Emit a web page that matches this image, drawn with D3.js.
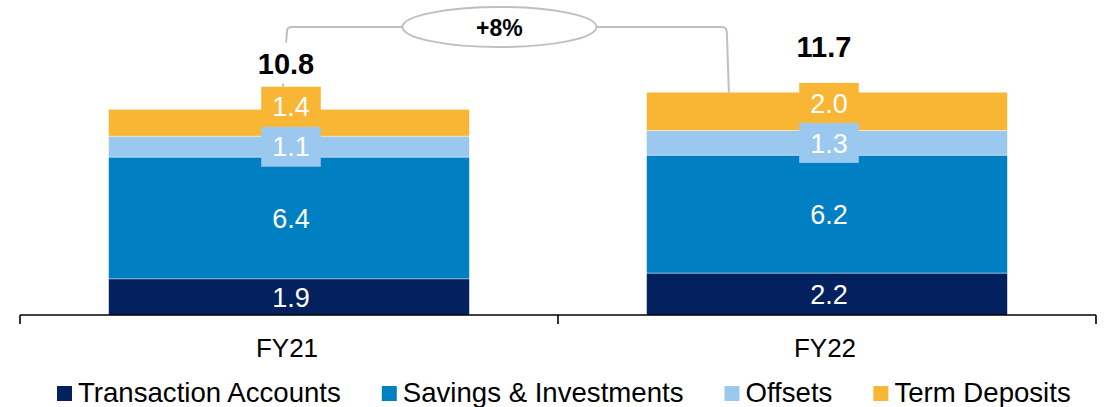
<!DOCTYPE html>
<html>
<head>
<meta charset="utf-8">
<script src="https://cdn.jsdelivr.net/npm/d3@7"></script>
<style>
  html, body { margin: 0; padding: 0; background: #fff; }
  svg { display: block; font-family: "Liberation Sans", Arial, sans-serif; }
</style>
</head>
<body>
<svg id="chart" width="1107" height="407"></svg>
<script>
// ---- data ----
const categories = ["FY21", "FY22"];
const seriesNames = ["Transaction Accounts", "Savings & Investments", "Offsets", "Term Deposits"];
const transactionAccounts = [1.9, 2.2];
const savingsInvestments = [6.4, 6.2];
const offsets = [1.1, 1.3];
const termDeposits = [1.4, 2.0];
const totals = [10.8, 11.7];
const growthLabel = "+8%";
const seriesColors = ["#03215f", "#0080c3", "#9bc8ee", "#f9b634"];

// ---- setup ----
const svg = d3.select("#chart");
const baseY = 315;

const x = d3.scaleBand().domain(categories).range([20, 1096]).paddingInner(0.33).paddingOuter(0.165);
const xAxisBand = d3.scaleBand().domain(categories).range([20, 1096]);
const y = d3.scaleLinear().domain([0, 11.7]).range([baseY, 92.5]);

const rows = categories.map((c, i) => ({
  cat: c,
  "Transaction Accounts": transactionAccounts[i],
  "Savings & Investments": savingsInvestments[i],
  "Offsets": offsets[i],
  "Term Deposits": termDeposits[i]
}));
const stack = d3.stack().keys(seriesNames)(rows);
const color = d3.scaleOrdinal().domain(seriesNames).range(seriesColors);

// ---- bars ----
const gBars = svg.append("g");
stack.forEach(layer => {
  gBars.selectAll(null).data(layer).join("rect")
    .attr("x", d => x(d.data.cat))
    .attr("width", x.bandwidth())
    .attr("y", d => y(d[1]))
    .attr("height", d => y(d[0]) - y(d[1]))
    .attr("fill", color(layer.key));
  gBars.selectAll(null).data(layer.filter(() => layer.index > 0)).join("line")
    .attr("x1", d => x(d.data.cat)).attr("x2", d => x(d.data.cat) + x.bandwidth())
    .attr("y1", d => y(d[0])).attr("y2", d => y(d[0]))
    .attr("stroke", "#ffffff").attr("stroke-opacity", 0.5).attr("stroke-width", 1);
});

// ---- segment labels with collision avoidance ----
const boxH = 40;
const labelFont = 27;
const gLabels = svg.append("g");
const boxTops = {};
categories.forEach((cat, ci) => {
  let prevTop = Infinity;
  stack.forEach(layer => {
    const d = layer[ci];
    const segTop = y(d[1]), segBot = y(d[0]);
    const segCenter = (segTop + segBot) / 2;
    const cy = Math.min(segCenter, prevTop - boxH / 2);
    const shifted = cy < segCenter - 0.5;
    prevTop = cy - boxH / 2;
    const cx = x(cat) + x.bandwidth() / 2 + 2;
    const g = gLabels.append("g");
    const needBox = shifted || (segBot - segTop) < boxH - 4;
    const rect = g.append("rect").attr("fill", color(layer.key));
    const t = g.append("text")
      .attr("x", cx).attr("y", cy + labelFont * 0.358)
      .attr("text-anchor", "middle")
      .attr("font-size", labelFont)
      .attr("fill", "#ffffff")
      .text(d3.format(".1f")(d[1] - d[0]));
    const tw = t.node().getComputedTextLength();
    if (needBox) {
      rect.attr("x", cx - tw / 2 - 11).attr("width", tw + 22)
        .attr("y", cy - boxH / 2).attr("height", boxH);
    } else {
      rect.remove();
    }
    boxTops[cat] = needBox ? cy - boxH / 2 : segTop;
  });
});

// ---- connector line and growth ellipse ----
const topY = 27;
const xL = x(categories[0]) + x.bandwidth() / 2 - 6;
const xR = x(categories[1]) + x.bandwidth() * 0.225;
const ecx = (xL + xR) / 2 - 6;
const erx = 97, ery = 20;
const conn = svg.append("g").attr("fill", "none").attr("stroke", "#bfbfbf").attr("stroke-width", 2);
conn.append("path").attr("d",
  `M${xL},${boxTops[categories[0]]} L${xL + 4},${topY + 4} Q${xL + 4},${topY} ${xL + 9},${topY} L${ecx - erx},${topY}`);
conn.append("path").attr("d",
  `M${ecx + erx},${topY} L${xR - 6},${topY} Q${xR - 1},${topY} ${xR - 1},${topY + 6} L${xR + 1},${y(totals[1])}`);
conn.append("ellipse").attr("cx", ecx).attr("cy", topY).attr("rx", erx).attr("ry", ery).attr("fill", "#fff");
svg.append("text")
  .attr("x", ecx).attr("y", topY + 8.5)
  .attr("text-anchor", "middle")
  .attr("font-size", 23).attr("font-weight", "bold")
  .attr("fill", "#000")
  .text(growthLabel);

// ---- totals ----
const gTot = svg.append("g");
categories.forEach((cat, i) => {
  const cx = x(cat) + x.bandwidth() / 2 - 3;
  const by = y(totals[i]) - 36;
  gTot.append("rect").attr("x", cx - 40).attr("y", by - 31).attr("width", 80).attr("height", 41).attr("fill", "#fff");
  gTot.append("text")
    .attr("x", cx).attr("y", by)
    .attr("text-anchor", "middle")
    .attr("font-size", 29).attr("font-weight", "bold")
    .attr("fill", "#000")
    .text(d3.format(".1f")(totals[i]));
});

// ---- axis ----
const gAxis = svg.append("g").attr("stroke", "#000").attr("stroke-width", 1.6);
const [ax0, ax1] = xAxisBand.range();
gAxis.append("line").attr("x1", ax0).attr("x2", ax1).attr("y1", baseY).attr("y2", baseY);
const tickXs = categories.map(c => xAxisBand(c)).concat([ax1]);
gAxis.selectAll(null).data(tickXs).join("line")
  .attr("x1", d => d).attr("x2", d => d)
  .attr("y1", baseY).attr("y2", baseY + 9);
svg.append("g").selectAll("text").data(categories).join("text")
  .attr("x", d => xAxisBand(d) + xAxisBand.bandwidth() / 2 - 2)
  .attr("y", 356.5)
  .attr("text-anchor", "middle")
  .attr("font-size", 26)
  .attr("fill", "#000")
  .text(d => d);

// ---- legend ----
const gLeg = svg.append("g");
let lx = 57;
seriesNames.forEach(name => {
  gLeg.append("rect").attr("x", lx).attr("y", 386).attr("width", 15).attr("height", 15).attr("fill", color(name));
  const t = gLeg.append("text")
    .attr("x", lx + 21).attr("y", 401.5)
    .attr("font-size", 27.6)
    .attr("fill", "#000")
    .text(name);
  lx += 21 + t.node().getComputedTextLength() + 41;
});
</script>
</body>
</html>
